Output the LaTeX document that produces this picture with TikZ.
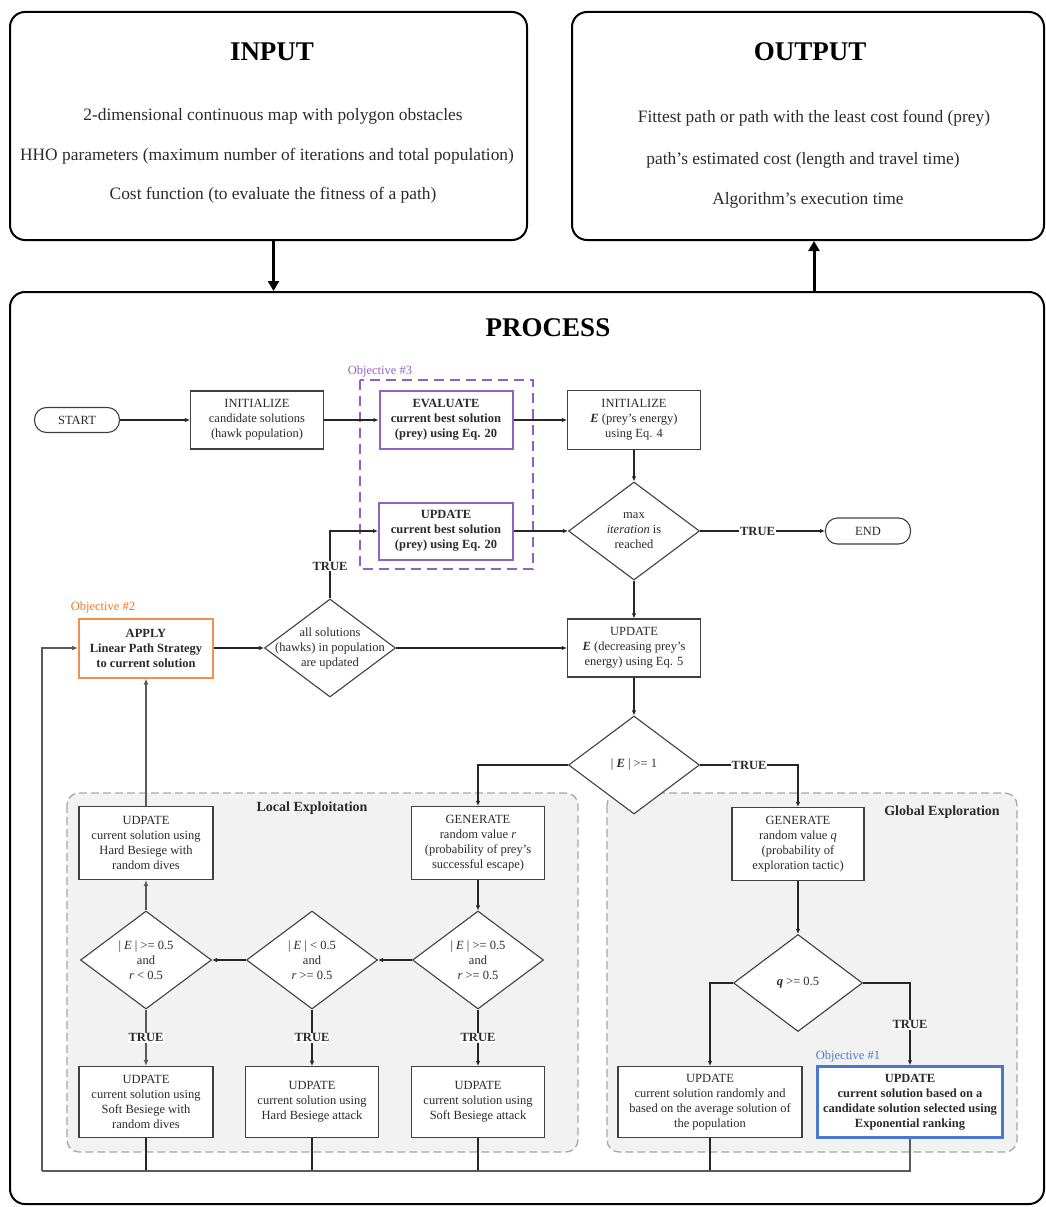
\documentclass[tikz,border=0pt]{standalone}
\usepackage{fontspec}
\setmainfont{Liberation Serif}
\usetikzlibrary{shapes.geometric,arrows.meta,calc}
\definecolor{linec}{HTML}{262626}
\definecolor{boxc}{HTML}{404040}
\definecolor{txtc}{HTML}{2A2A2A}
\definecolor{purp}{HTML}{9062C2}
\definecolor{orng}{HTML}{F0904A}
\definecolor{orngt}{HTML}{E8762B}
\definecolor{blu}{HTML}{4A78D0}
\definecolor{panelfill}{HTML}{F2F2F2}
\definecolor{panelline}{HTML}{A8A8A8}
\definecolor{thickg}{HTML}{5A5A5A}
\tikzset{
 base/.style={font=\fontsize{12.5}{15}\selectfont, text=txtc},
 box/.style={base, draw=boxc, fill=white, line width=1.1pt, align=center, inner sep=1pt},
 term/.style={base, draw=boxc, fill=white, line width=1.1pt, rounded corners=12pt, minimum width=85pt, minimum height=25pt, inner sep=0pt},
 dia/.style={diamond, draw=boxc, fill=white, line width=1.1pt, minimum width=131pt, minimum height=98pt, inner sep=0pt},
 dtxt/.style={base, align=center, inner sep=0pt},
 conn/.style={draw=linec, line width=1.1pt, -{Latex[length=5pt,width=4.5pt]}},
 plainline/.style={draw=linec, line width=1.1pt},
 heavy/.style={draw=thickg, line width=2pt, -{Latex[length=6pt,width=5pt]}},
 heavyline/.style={draw=thickg, line width=1.8pt},
 tlabel/.style={font=\fontsize{12.5}{14}\selectfont\bfseries, text=txtc, fill=white, inner sep=1pt},
 panel/.style={draw=panelline, fill=panelfill, dash pattern=on 8pt off 4pt, rounded corners=12pt, line width=1.3pt},
 bigbox/.style={draw=black, line width=2pt, rounded corners=15pt, inner sep=0pt},
 io/.style={draw=black, line width=3pt, -{Triangle[length=10pt,width=11pt]}},
 objlabel/.style={font=\fontsize{12.5}{14}\selectfont, inner sep=0pt},
 iotext/.style={font=\fontsize{17.4}{20}\selectfont, text=txtc},
 iotitle/.style={font=\fontsize{27}{30}\selectfont\bfseries},
 paneltitle/.style={font=\fontsize{14}{16}\selectfont\bfseries, text=txtc},
 boldbox/.style={box, font=\fontsize{12.5}{15}\selectfont\bfseries},
}
\begin{document}
\begin{tikzpicture}[x=1pt,y=-1pt]
\useasboundingbox (0,0) rectangle (1046,1207);

% big boxes
\node[bigbox, minimum width=517pt, minimum height=228pt] (input) at (268.5,126) {};
\node[bigbox, minimum width=472pt, minimum height=228pt] (output) at (808,126) {};
\node[bigbox, minimum width=1034pt, minimum height=912pt] (proc) at (527,748) {};

\node[iotitle] (intitle) at (272,52) {INPUT};
\node[iotext] (in1) at (273,116) {2-dimensional continuous map with polygon obstacles};
\node[iotext] (in2) at (267,156) {HHO parameters (maximum number of iterations and total population)};
\node[iotext] (in3) at (273,195) {Cost function (to evaluate the fitness of a path)};

\node[iotitle] (outtitle) at (810,52) {OUTPUT};
\node[iotext] (out1) at (814,118) {Fittest path or path with the least cost found (prey)};
\node[iotext] (out2) at (803,160) {path's estimated cost (length and travel time)};
\node[iotext] (out3) at (808,200) {Algorithm's execution time};

\node[iotitle] (ptitle) at (548,328) {PROCESS};

% panels
\draw[panel] (67,793) rectangle (578,1152);
\draw[panel] (607,793) rectangle (1017,1152);
\node[paneltitle] (loctitle) at (312,808) {Local Exploitation};
\node[paneltitle] (globtitle) at (942,812) {Global Exploration};

% objective 3 frame
\draw[purp, line width=2pt, dash pattern=on 10pt off 6pt] (360,380) rectangle (533,569);
\node[objlabel, text=purp] (obj3) at (380,371) {Objective \#3};
\node[objlabel, text=orngt] (obj2) at (103,607) {Objective \#2};
\node[objlabel, text=blu] (obj1) at (848,1056) {Objective \#1};

% nodes
\node[term] (start) at (77,420) {START};
\node[box, minimum width=133pt, minimum height=58pt] (init) at (257,420) {INITIALIZE\\candidate solutions\\(hawk population)};
\node[boldbox, draw=purp, line width=2pt, minimum width=133pt, minimum height=58pt] (eval) at (446,420) {EVALUATE\\current best solution\\(prey) using Eq. 20};
\node[box, minimum width=133pt, minimum height=59pt] (inite) at (634,420) {INITIALIZE\\\textbf{\textit{E}} (prey's energy)\\using Eq. 4};
\node[boldbox, draw=purp, line width=2pt, minimum width=134pt, minimum height=57pt] (upd3) at (446,531) {UPDATE\\current best solution\\(prey) using Eq. 20};
\node[dia, label={[dtxt]center:{max\\\textit{iteration} is\\reached}}] (maxd) at (634,531) {};
\node[term, minimum height=26pt] (endn) at (868,531) {END};

\node[boldbox, draw=orng, line width=2pt, minimum width=134pt, minimum height=59pt] (apply) at (146,648) {APPLY\\Linear Path Strategy\\to current solution};
\node[dia, label={[dtxt]center:{all solutions\\(hawks) in population\\are updated}}] (alld) at (330,648) {};
\node[box, minimum width=133pt, minimum height=58pt] (upde) at (634,648) {UPDATE\\\textbf{\textit{E}} (decreasing prey's\\energy) using Eq. 5};
\node[dia, label={[dtxt]center:{| \textbf{\textit{E}} | >= 1}}] (e1d) at (634,765) {};

\node[box, minimum width=134pt, minimum height=73pt] (hdives) at (146,843) {UDPATE\\current solution using\\Hard Besiege with\\random dives};
\node[box, minimum width=133pt, minimum height=73pt] (genr) at (478,843) {GENERATE\\random value \textit{r}\\(probability of prey's\\successful escape)};
\node[box, minimum width=132pt, minimum height=73pt] (genq) at (798,844) {GENERATE\\random value \textit{q}\\(probability of\\exploration tactic)};

\node[dia, label={[dtxt]center:{| \textit{E} | >= 0.5\\and\\\textit{r} < 0.5}}] (d1) at (146,960) {};
\node[dia, label={[dtxt]center:{| \textit{E} | < 0.5\\and\\\textit{r} >= 0.5}}] (d2) at (312,960) {};
\node[dia, label={[dtxt]center:{| \textit{E} | >= 0.5\\and\\\textit{r} >= 0.5}}] (d3) at (478,960) {};

\node[box, minimum width=134pt, minimum height=71pt] (b1) at (146,1102) {UDPATE\\current solution using\\Soft Besiege with\\random dives};
\node[box, minimum width=133pt, minimum height=71pt] (b2) at (312,1102) {UDPATE\\current solution using\\Hard Besiege attack};
\node[box, minimum width=133pt, minimum height=71pt] (b3) at (478,1102) {UDPATE\\current solution using\\Soft Besiege attack};

\node[dia, minimum width=129pt, minimum height=97pt, label={[dtxt]center:{\textbf{\textit{q}} >= 0.5}}] (qd) at (798,983) {};
\node[box, minimum width=184pt, minimum height=71pt] (bl) at (710,1102) {UPDATE\\current solution randomly and\\based on the average solution of\\the population};
\node[boldbox, draw=blu, line width=2.5pt, minimum width=185pt, minimum height=71pt] (bb) at (910,1102) {UPDATE\\current solution based on a\\candidate solution selected using\\Exponential ranking};

\coordinate (ret) at (42,1171);

% I/O arrows
\draw[io] ($(input.south)+(5,0)$) -- ($(input.south |- proc.north)+(5,0)$);
\draw[io] ($(output.south |- proc.north)+(6,0)$) -- ($(output.south)+(6,0)$);

% connectors
\draw[conn] (start) -- (init);
\draw[conn] (init) -- (eval);
\draw[conn] (eval) -- (inite);
\draw[conn] (inite) -- (maxd);
\draw[conn] (upd3) -- (maxd);
\draw[conn] (maxd) -- node[tlabel, pos=0.46]{TRUE} (endn);
\draw[conn] (maxd) -- (upde);
\draw[conn] (alld) -- (upde);
\draw[conn] (alld.north) |- node[tlabel, pos=0.24]{TRUE} (upd3.west);
\draw[conn] (apply) -- (alld);
\draw[conn] (upde) -- (e1d);
\draw[conn] (e1d.east) -| node[tlabel, pos=0.25]{TRUE} (genq.north);
\draw[conn] (e1d.west) -| (genr.north);
\draw[conn] (genr) -- (d3);
\draw[conn] (d3) -- (d2);
\draw[conn] (d2) -- (d1);
\draw[heavy] (d1) -- (hdives);
\draw[heavy] (hdives) -- (apply);
\draw[heavy] (d1) -- node[tlabel]{TRUE} (b1);
\draw[conn] (d2) -- node[tlabel]{TRUE} (b2);
\draw[conn] (d3) -- node[tlabel]{TRUE} (b3);
\draw[conn] (genq) -- (qd);
\draw[conn] (qd.west) -| (bl.north);
\draw[conn] (qd.east) -| node[tlabel, pos=0.755]{TRUE} (bb.north);

% return path
\draw[plainline] (b1.south) -- (b1.south |- ret);
\draw[plainline] (b2.south) -- (b2.south |- ret);
\draw[plainline] (b3.south) -- (b3.south |- ret);
\draw[plainline] (bl.south) -- (bl.south |- ret);
\draw[heavyline] (bb.south) |- (ret);
\draw[heavy] (ret) |- (apply.west);
\end{tikzpicture}
\end{document}
